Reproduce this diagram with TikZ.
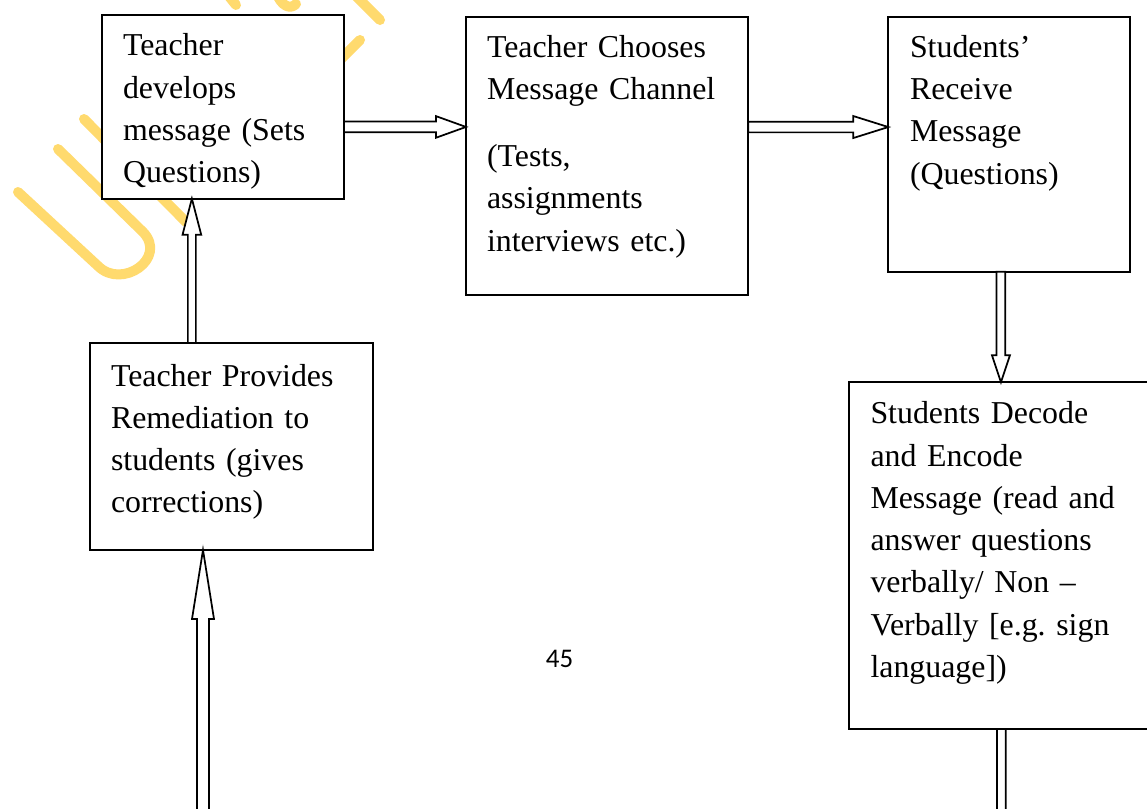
\documentclass[tikz,border=0pt]{standalone}
\usepackage{fontspec}
\setmainfont{Liberation Serif}
\newfontfamily\pagefont{Carlito}
\usetikzlibrary{calc}
\definecolor{wmyellow}{RGB}{255,218,110}
\tikzset{
  box/.style={draw, line width=1.4pt, fill=white, anchor=north west, inner sep=0pt, outer sep=0pt},
  txt/.style={anchor=base west, inner sep=0pt, outer sep=0pt, text width=300pt, align=left,
              font=\fontsize{23.9pt}{31.7pt}\selectfont\frenchspacing},
  barrow/.style={draw, line width=1.3pt, fill=white, line join=miter},
  wm/.style={draw=wmyellow, line width=7.5pt, line cap=round, line join=round}
}
% #1 start, #2 tip, #3 shaft half width, #4 head length, #5 head half width
\newcommand\blockarrow[5]{%
  \path[barrow] ($(#1)!#3!90:(#2)$) -- ($(#2)!#4!(#1)!#3!-90:(#1)$)
    -- ($(#2)!#4!(#1)!#5!-90:(#1)$) -- (#2)
    -- ($(#2)!#4!(#1)!#5!90:(#1)$) -- ($(#2)!#4!(#1)!#3!90:(#1)$)
    -- ($(#1)!#3!-90:(#2)$) -- cycle;}
\begin{document}
\begin{tikzpicture}[x=0.75pt, y=-0.75pt]
  \useasboundingbox (0,0) rectangle (1147,808);
  \clip (0,0) rectangle (1147,808);
  \fill[white] (0,0) rectangle (1147,808);
  % watermark
  \draw[wm] (18,192) -- (98,266) .. controls (122,290) and (168,258) .. (143,232) -- (58,149);
  \draw[wm] (84,119) -- (186,222);
  \draw[wm] (300,100) -- (360,40);
  \draw[wm] (224,-10) -- (236,5);
  \draw[wm] (276,-8) .. controls (281,6) and (290,10) .. (296,4);
  \draw[wm] (345,-15) -- (380,20);
  % boxes
  \node[box, minimum width=181.3pt, minimum height=138pt]    (A) at (102.3,14.7) {};
  \node[box, minimum width=211.7pt, minimum height=208.7pt]  (B) at (466,16.7) {};
  \node[box, minimum width=181.3pt, minimum height=191.25pt] (C) at (888.3,16.7) {};
  \node[box, minimum width=233.25pt, minimum height=260pt]   (D) at (849,382.3) {};
  \node[box, minimum width=212.25pt, minimum height=155.25pt](E) at (90,343) {};
  % texts
  \node[txt] (tA) at (123,55.8) {Teacher\\ develops\\ message (Sets\\ Questions)};
  \node[txt] (tB) at (487,57.4) {Teacher Chooses\\ Message Channel\\[18.5pt] (Tests,\\ assignments\\ interviews etc.)};
  \node[txt] (tC) at (910,57.4) {Students’\\ Receive\\ Message\\ (Questions)};
  \node[txt] (tD) at (870.5,423.8) {Students Decode\\ and Encode\\ Message (read and\\ answer questions\\ verbally/ Non –\\ Verbally [e.g. sign\\ language])};
  \node[txt] (tE) at (111,386) {Teacher Provides\\ Remediation to\\ students (gives\\ corrections)};
  % page number
  \node[anchor=base, inner sep=0pt, font=\pagefont\fontsize{20.2pt}{24pt}\selectfont] (pg) at (559.5,667.7) {45};
  % connectors
  \coordinate (ab1) at ($(A.north east)!0.61!(A.south east)$);
  \coordinate (ab2) at (B.west |- ab1);
  \blockarrow{ab1}{ab2}{4pt}{22.5pt}{8.1pt}
  \coordinate (bc1) at ($(B.north east)!0.3965!(B.south east)$);
  \coordinate (bc2) at (C.west |- bc1);
  \blockarrow{bc1}{bc2}{4pt}{26.25pt}{8.25pt}
  \coordinate (cd1) at ($(C.south west)!0.466!(C.south east)$);
  \coordinate (cd2) at (cd1 |- D.north);
  \blockarrow{cd1}{cd2}{3.3pt}{20.25pt}{6.75pt}
  \coordinate (ea1) at ($(E.north west)!0.36!(E.north east)$);
  \coordinate (ea2) at (ea1 |- A.south);
  \blockarrow{ea1}{ea2}{3pt}{27pt}{7pt}
  \coordinate (in) at (203,840);
  \coordinate (in2) at (in |- E.south);
  \blockarrow{in}{in2}{4.5pt}{51.75pt}{8.25pt}
  \coordinate (dout) at (1001.4,900);
  \coordinate (do1) at (dout |- D.south);
  \blockarrow{do1}{dout}{3.3pt}{22pt}{7pt}
\end{tikzpicture}
\end{document}
